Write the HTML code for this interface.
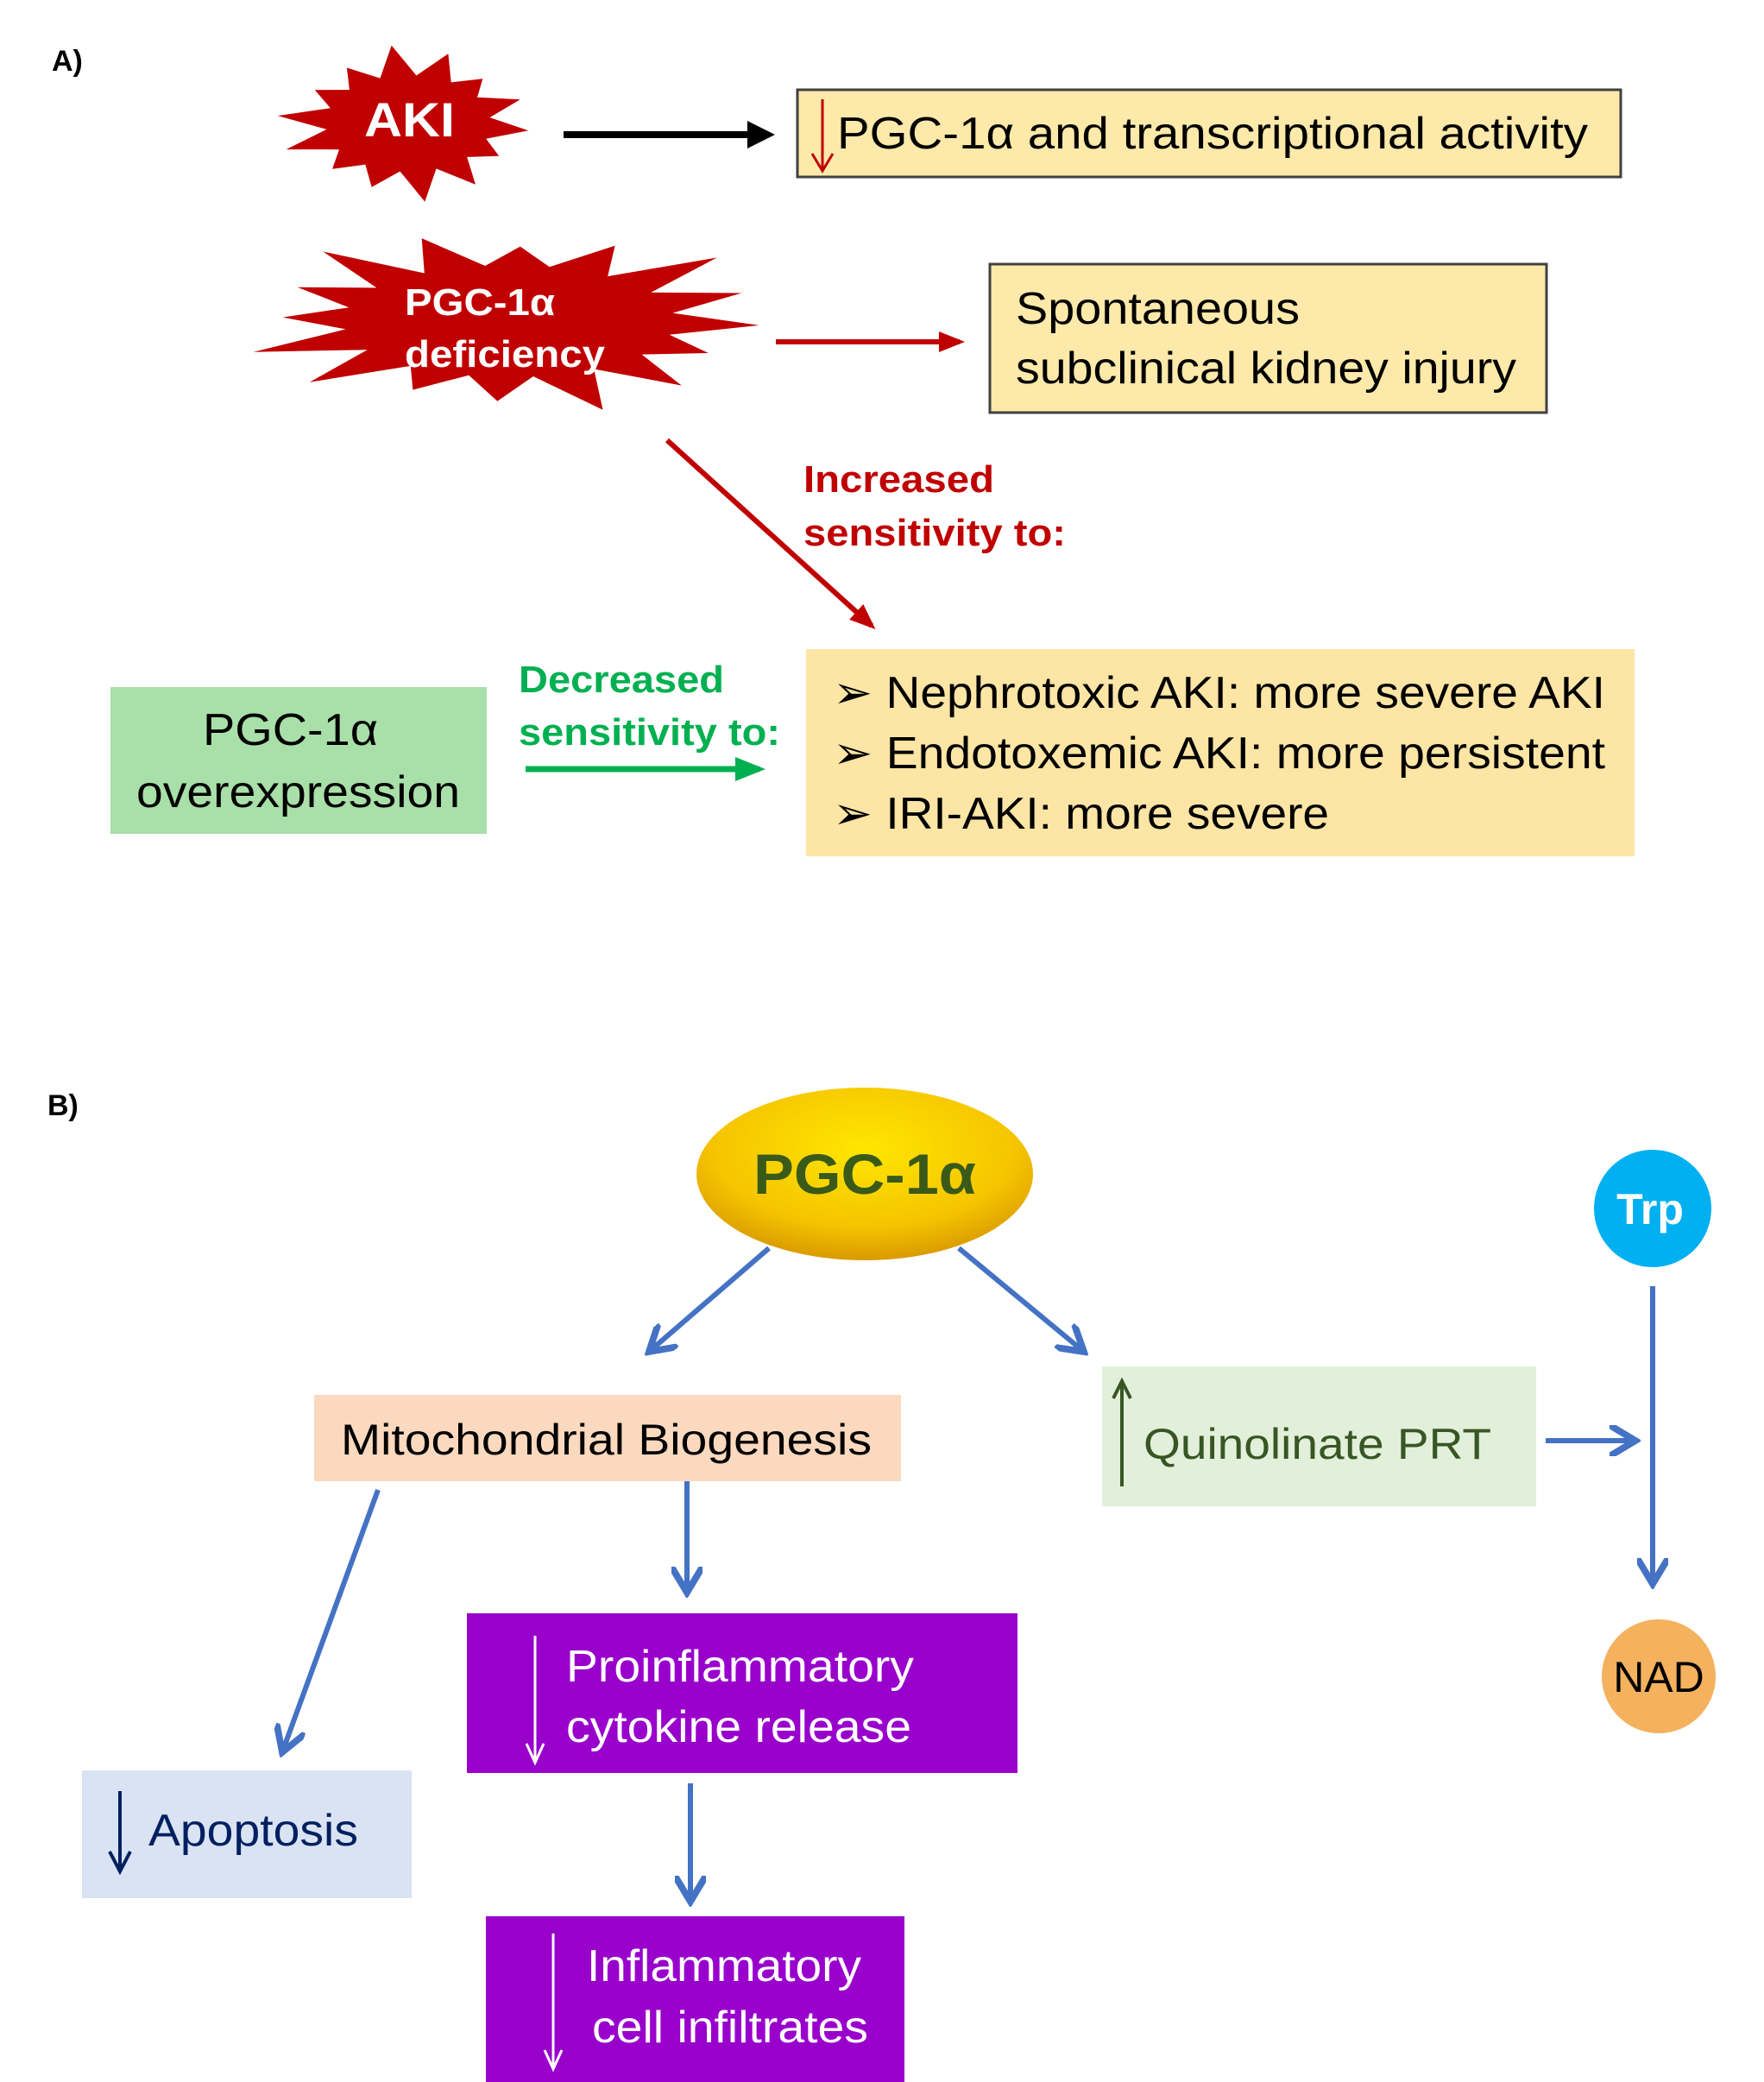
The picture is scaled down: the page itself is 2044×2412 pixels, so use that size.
<!DOCTYPE html>
<html><head><meta charset="utf-8"><style>
html,body{margin:0;padding:0;background:#fff}
svg{display:block}
text{font-family:"Liberation Sans",Arial,sans-serif}
</style></head><body>
<svg id="s" width="2044" height="2412" viewBox="0 0 2044 2412" xmlns="http://www.w3.org/2000/svg">
<defs>
<radialGradient id="yg" cx="50%" cy="35%" r="65%"><stop offset="0" stop-color="#ffe600"/><stop offset="0.7" stop-color="#f5c400"/><stop offset="1" stop-color="#d99a00"/></radialGradient>
<marker id="mk" markerWidth="4" markerHeight="4" refX="3" refY="2" orient="auto" markerUnits="strokeWidth"><path d="M0,0 L4,2 L0,4 z" fill="#000"/></marker>
<marker id="mr" markerWidth="5" markerHeight="4" refX="4" refY="2" orient="auto" markerUnits="strokeWidth"><path d="M0,0 L5,2 L0,4 z" fill="#c00000"/></marker>
<marker id="mg" markerWidth="5" markerHeight="4" refX="4" refY="2" orient="auto" markerUnits="strokeWidth"><path d="M0,0 L5,2 L0,4 z" fill="#00b050"/></marker>
<marker id="mb" markerWidth="6" markerHeight="6" refX="5" refY="3" orient="auto" markerUnits="strokeWidth"><path d="M0,0 L5,3 L0,6" fill="none" stroke="#4472c4" stroke-width="1.3"/></marker>
</defs>

<text x="60" y="82" font-size="34" font-weight="bold">A)</text>

<polygon id="st1" fill="#c00000"/>
<text x="422" y="158" font-size="56" font-weight="bold" fill="#fff" textLength="105" lengthAdjust="spacingAndGlyphs">AKI</text>
<line x1="653" y1="156" x2="890" y2="156" stroke="#000" stroke-width="8" marker-end="url(#mk)"/>
<rect x="924" y="104" width="954" height="101" fill="#fde9a9" stroke="#404040" stroke-width="3"/>
<line x1="953" y1="115" x2="953" y2="195" stroke="#c00000" stroke-width="3"/>
<path d="M941,178 L953,198 L965,178" fill="none" stroke="#c00000" stroke-width="3"/>
<text x="970" y="172" font-size="52" textLength="870" lengthAdjust="spacingAndGlyphs">PGC-1α  and transcriptional activity</text>

<polygon id="st2" fill="#c00000"/>
<text x="469" y="365" font-size="44" font-weight="bold" fill="#fff" textLength="174" lengthAdjust="spacingAndGlyphs">PGC-1α</text>
<text x="469" y="425" font-size="44" font-weight="bold" fill="#fff" textLength="232" lengthAdjust="spacingAndGlyphs">deficiency</text>
<line x1="899" y1="396" x2="1112" y2="396" stroke="#c00000" stroke-width="6" marker-end="url(#mr)"/>
<rect x="1147" y="306" width="645" height="172" fill="#fde9a9" stroke="#404040" stroke-width="3"/>
<text x="1177" y="375" font-size="52" textLength="329" lengthAdjust="spacingAndGlyphs">Spontaneous</text>
<text x="1177" y="444" font-size="52" textLength="580" lengthAdjust="spacingAndGlyphs">subclinical kidney injury</text>

<line x1="773" y1="510" x2="1010" y2="725" stroke="#c00000" stroke-width="6" marker-end="url(#mr)"/>
<text x="931" y="570" font-size="44" font-weight="bold" fill="#c00000" textLength="221" lengthAdjust="spacingAndGlyphs">Increased</text>
<text x="931" y="632" font-size="44" font-weight="bold" fill="#c00000" textLength="304" lengthAdjust="spacingAndGlyphs">sensitivity to:</text>

<rect x="128" y="796" width="436" height="170" fill="#a9dfa9"/>
<text x="235" y="863" font-size="52" textLength="203" lengthAdjust="spacingAndGlyphs">PGC-1α</text>
<text x="158" y="935" font-size="52" textLength="375" lengthAdjust="spacingAndGlyphs">overexpression</text>
<text x="601" y="802" font-size="44" font-weight="bold" fill="#00b050" textLength="238" lengthAdjust="spacingAndGlyphs">Decreased</text>
<text x="601" y="863" font-size="44" font-weight="bold" fill="#00b050" textLength="303" lengthAdjust="spacingAndGlyphs">sensitivity to:</text>
<line x1="609" y1="891" x2="880" y2="891" stroke="#00b050" stroke-width="7" marker-end="url(#mg)"/>

<rect x="934" y="752" width="960" height="240" fill="#fde5a5"/>
<text x="965" y="820" font-size="52" textLength="895" lengthAdjust="spacingAndGlyphs">➢ Nephrotoxic AKI: more severe AKI</text>
<text x="965" y="890" font-size="52" textLength="895" lengthAdjust="spacingAndGlyphs">➢ Endotoxemic AKI: more persistent</text>
<text x="965" y="960" font-size="52" textLength="575" lengthAdjust="spacingAndGlyphs">➢ IRI-AKI: more severe</text>

<text x="55" y="1292" font-size="34" font-weight="bold">B)</text>

<ellipse cx="1002" cy="1360" rx="195" ry="100" fill="url(#yg)"/>
<text x="873" y="1383" font-size="66" font-weight="bold" fill="#3a5a1a" textLength="258" lengthAdjust="spacingAndGlyphs">PGC-1α</text>

<g stroke="#4472c4" stroke-width="6" fill="none">
<line x1="891" y1="1446" x2="752" y2="1566" marker-end="url(#mb)"/>
<line x1="1111" y1="1446" x2="1256" y2="1566" marker-end="url(#mb)"/>
<line x1="1791" y1="1669" x2="1895" y2="1669" marker-end="url(#mb)"/>
<line x1="1915" y1="1490" x2="1915" y2="1835" marker-end="url(#mb)"/>
<line x1="438" y1="1726" x2="327" y2="2030" marker-end="url(#mb)"/>
<line x1="796" y1="1715" x2="796" y2="1845" marker-end="url(#mb)"/>
<line x1="800" y1="2066" x2="800" y2="2203" marker-end="url(#mb)"/>
</g>

<rect x="364" y="1616" width="680" height="100" fill="#fbd9bf"/>
<text x="395" y="1685" font-size="50" textLength="615" lengthAdjust="spacingAndGlyphs">Mitochondrial Biogenesis</text>

<rect x="1277" y="1583" width="503" height="162" fill="#e2efda"/>
<line x1="1300" y1="1603" x2="1300" y2="1722" stroke="#375623" stroke-width="4"/>
<path d="M1290,1620 L1300,1600 L1310,1620" fill="none" stroke="#375623" stroke-width="4"/>
<text x="1325" y="1690" font-size="50" fill="#375623" textLength="403" lengthAdjust="spacingAndGlyphs">Quinolinate PRT</text>

<circle cx="1915" cy="1400" r="68" fill="#00b0f0"/>
<text x="1912" y="1418" font-size="50" font-weight="bold" fill="#fff" text-anchor="middle">Trp</text>
<circle cx="1922" cy="1942" r="66" fill="#f4b15e"/>
<text x="1922" y="1960" font-size="50" fill="#000" text-anchor="middle">NAD</text>

<rect x="541" y="1869" width="638" height="185" fill="#9900cc"/>
<line x1="620" y1="1895" x2="620" y2="2040" stroke="#fff" stroke-width="3"/>
<path d="M610,2020 L620,2042 L630,2020" fill="none" stroke="#fff" stroke-width="3"/>
<text x="656" y="1948" font-size="52" fill="#fff" textLength="403" lengthAdjust="spacingAndGlyphs">Proinflammatory</text>
<text x="656" y="2018" font-size="52" fill="#fff" textLength="400" lengthAdjust="spacingAndGlyphs">cytokine release</text>

<rect x="95" y="2051" width="382" height="148" fill="#dae3f3"/>
<line x1="139" y1="2075" x2="139" y2="2165" stroke="#002060" stroke-width="4"/>
<path d="M127,2145 L139,2168 L151,2145" fill="none" stroke="#002060" stroke-width="4"/>
<text x="172" y="2138" font-size="52" fill="#002060" textLength="243" lengthAdjust="spacingAndGlyphs">Apoptosis</text>

<rect x="563" y="2220" width="485" height="192" fill="#9900cc"/>
<line x1="641" y1="2240" x2="641" y2="2395" stroke="#fff" stroke-width="3"/>
<path d="M631,2375 L641,2397 L651,2375" fill="none" stroke="#fff" stroke-width="3"/>
<text x="680" y="2295" font-size="52" fill="#fff" textLength="318" lengthAdjust="spacingAndGlyphs">Inflammatory</text>
<text x="686" y="2366" font-size="52" fill="#fff" textLength="320" lengthAdjust="spacingAndGlyphs">cell infiltrates</text>
</svg>
<script>
function star(id,cx,cy,rx,ry,n,k,rot){
 var p=[];for(var i=0;i<2*n;i++){var a=rot+Math.PI*i/n;var f=(i%2==0)?1:k;
 var j=(i%2==0)?(1+0.12*Math.sin(i*2.3)):1;
 p.push((cx+rx*f*j*Math.cos(a)).toFixed(1)+","+(cy+ry*f*j*Math.sin(a)).toFixed(1));}
 document.getElementById(id).setAttribute("points",p.join(" "));}
star("st1",473,143,140,82,14,0.68,0.1);
star("st2",590,372,290,98,16,0.66,0.05);
</script>
</body></html>
